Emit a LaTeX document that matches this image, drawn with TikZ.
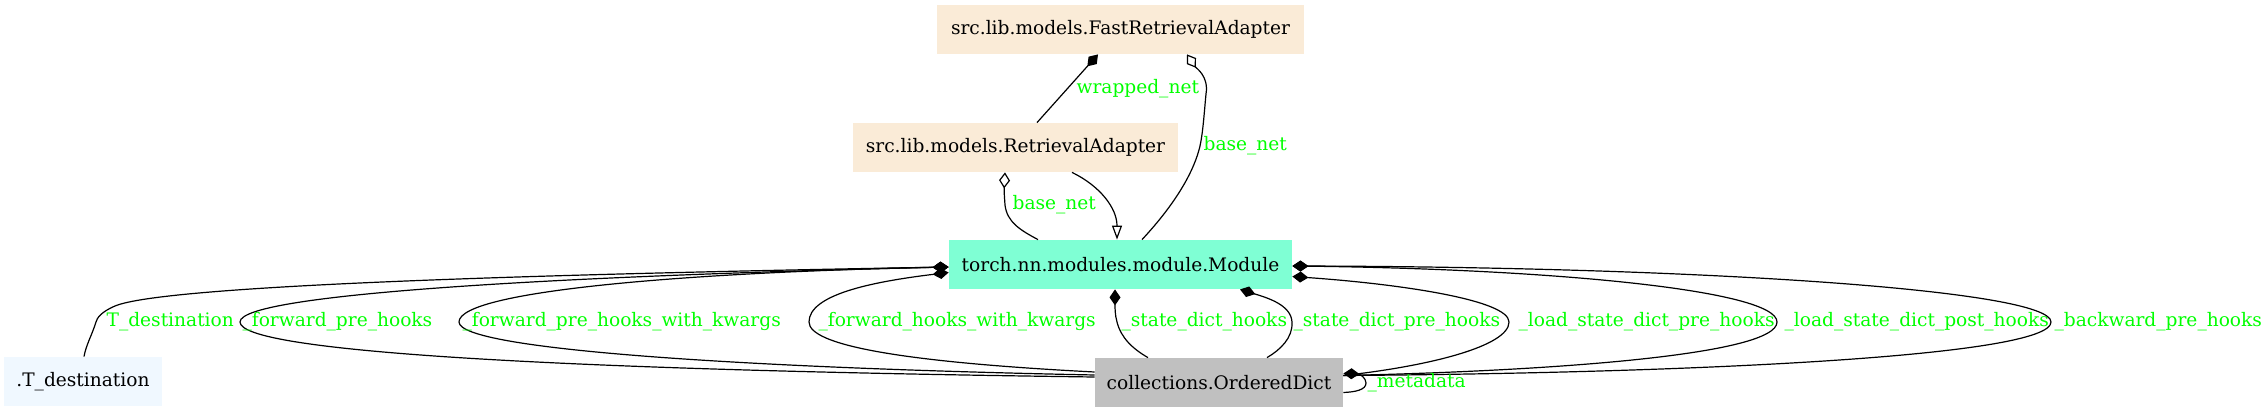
\documentclass[tikz,border=0pt]{standalone}
\usepackage{fontspec}
\setmainfont{DejaVu Serif}
\usetikzlibrary{arrows.meta,calc}
\definecolor{antiquewhite}{HTML}{FAEBD7}
\definecolor{aquamarine}{HTML}{7FFFD4}
\definecolor{silvergray}{HTML}{C0C0C0}
\definecolor{aliceblue}{HTML}{F0F8FF}
\definecolor{lblgreen}{HTML}{00FF00}
\tikzset{
  cls/.style={rectangle, inner sep=0pt, minimum height=24.5pt, font=\fontsize{9.3}{11}\selectfont},
  lbl/.style={text=lblgreen, inner sep=0pt, anchor=west, font=\fontsize{9.3}{11}\selectfont},
  comp/.style={{Diamond[length=8pt,width=5.5pt]}-, line width=0.6pt},
  aggr/.style={{Diamond[open,length=8pt,width=5.5pt]}-, line width=0.6pt},
  inher/.style={-{Triangle[open,length=7pt,width=5pt]}, line width=0.6pt},
}

\begin{document}
\begin{tikzpicture}[x=0.5pt,y=-0.5pt]
  \useasboundingbox (0,0) rectangle (2265,412);
  \node[cls, fill=antiquewhite, minimum width=183.5pt] (fra) at (1120.5,29.5) {src.lib.models.FastRetrievalAdapter};
  \node[cls, fill=antiquewhite, minimum width=162.5pt] (ra) at (1015.5,147.5) {src.lib.models.RetrievalAdapter};
  \node[cls, fill=aquamarine, minimum width=171.5pt] (mod) at (1120.5,264.5) {torch.nn.modules.module.Module};
  \node[cls, fill=silvergray, minimum width=124pt] (od) at (1219,382.5) {collections.OrderedDict};
  \node[cls, fill=aliceblue, minimum width=79pt] (tdest) at (83,381.5) {.T\_destination};

  % adapters
  \draw[comp] ($(fra.south)+(-22.5,0)$) -- node[lbl, pos=0.5, xshift=4.25pt] (lwrap) {wrapped\_net} ($(ra.north)+(21.5,0)$);
  \draw[aggr] ($(fra.south)+(66.5,0)$) .. controls (1196,68) and (1209,76) .. (1206,94) .. controls (1204,115) and (1203,132) .. (1200,146) node[lbl, xshift=1.5pt] (lbase1) {base\_net} .. controls (1192,180) and (1165,215) .. ($(mod.north)+(21.5,0)$);
  \draw[aggr] ($(ra.south)+(-10.5,0)$) .. controls (1004,190) .. (1005,205) node[lbl, xshift=3.5pt] (lbase2) {base\_net} .. controls (1007,222) and (1020,230) .. ($(mod.north)+(-82.5,0)$);
  \draw[inher] ($(ra.south)+(56.5,0)$) .. controls (1100,186) and (1117,208) .. ($(mod.north)+(-3.5,0)$);

  % left side
  \draw[comp] ($(mod.west)+(0,2.5)$) .. controls (550,274) and (165,285) .. (115,306) .. controls (101,312) and (97,318) .. (96,322) node[lbl, xshift=5pt] (ltdest) {T\_destination} .. controls (92,335) and (86,345) .. ($(tdest.north)+(1,0)$);
  \draw[comp] ($(mod.west)+(0,2.5)$) .. controls (600,275) and (240,292) .. (240,322) node[lbl, xshift=1pt] (lfph) {\_forward\_pre\_hooks} .. controls (240,352) and (560,370) .. ($(od.west)+(0,-5.5)$);
  \draw[comp] ($(mod.west)+(0,2.5)$) .. controls (700,272) and (459,290) .. (459,322) node[lbl, xshift=1.5pt] (lfphk) {\_forward\_pre\_hooks\_with\_kwargs} .. controls (459,350) and (750,368) .. ($(od.west)+(0,-7.5)$);
  \draw[comp] ($(mod.west)+(0,8)$) .. controls (870,282) and (809,295) .. (809,322) node[lbl, xshift=4.5pt] (lfhk) {\_forward\_hooks\_with\_kwargs} .. controls (809,345) and (900,362) .. ($(od.west)+(0,-10.5)$);

  % below
  \draw[comp] ($(mod.south)+(-5.5,0)$) .. controls (1115,308) and (1115,315) .. (1117,322) node[lbl, xshift=2pt] (lsdh) {\_state\_dict\_hooks} .. controls (1121,338) and (1133,349) .. ($(od.north)+(-71,0)$);
  \draw[comp] ($(mod.south)+(119.5,0)$) .. controls (1268,298) and (1291,305) .. (1292,322) node[lbl, xshift=0.5pt] (lsdph) {\_state\_dict\_pre\_hooks} .. controls (1293,338) and (1280,350) .. ($(od.north)+(48,0)$);

  % right side
  \draw[comp] ($(mod.east)+(0,12)$) .. controls (1400,284) and (1509,300) .. (1509,322) node[lbl, xshift=4.5pt] (llsdph) {\_load\_state\_dict\_pre\_hooks} .. controls (1509,346) and (1430,366) .. ($(od.east)+(0,-7)$);
  \draw[comp] ($(mod.east)+(0,1.5)$) .. controls (1550,269) and (1777,290) .. (1777,322) node[lbl, xshift=3.5pt] (llsdpoh) {\_load\_state\_dict\_post\_hooks} .. controls (1777,355) and (1550,371) .. ($(od.east)+(0,-7)$);
  \draw[comp] ($(mod.east)+(0,1.5)$) .. controls (1700,267) and (2051,290) .. (2051,322) node[lbl, xshift=1.5pt] (lbph) {\_backward\_pre\_hooks} .. controls (2051,356) and (1700,373) .. ($(od.east)+(0,-7)$);
  \draw[comp] ($(od.east)+(0,-9)$) .. controls (1360,374) and (1366,378) .. (1366,383) node[lbl, xshift=0.5pt] (lmeta) {\_metadata} .. controls (1366,390) and (1355,392) .. ($(od.east)+(0,10)$);
\end{tikzpicture}
\end{document}
